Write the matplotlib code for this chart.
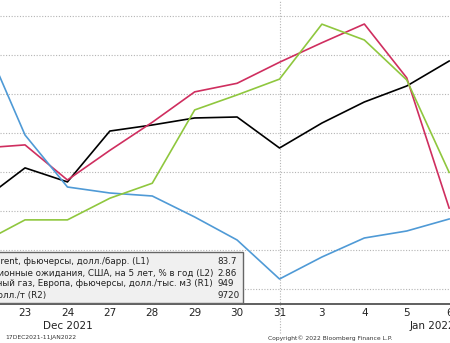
import matplotlib
matplotlib.use("Agg")
import matplotlib.pyplot as plt
from matplotlib.patches import Rectangle

# trading days shown (Dec 22 is just off the left edge)
day_labels = ["22", "23", "24", "27", "28", "29", "30", "31", "3", "4", "5", "6"]

# values, each series in its own units
brent = [74.56, 76.21, 75.49, 78.10, 78.41, 78.77, 78.82, 77.23, 78.51, 79.59, 80.41, 81.69]
breakeven = [2.761, 2.765, 2.720, 2.758, 2.794, 2.833, 2.844, 2.871, 2.896, 2.920, 2.851, 2.684]
gas = [1728, 1336, 1128, 1104, 1092, 1008, 916, 760, 848, 924, 952, 1000]
copper = [9498, 9525, 9525, 9551, 9569, 9657, 9675, 9694, 9760, 9741, 9693, 9582]

legend_names = [
    "Нефть Brent, фьючерсы, долл./барр. (L1)",
    "Инфляционные ожидания, США, на 5 лет, % в год (L2)",
    "Природный газ, Европа, фьючерсы, долл./тыс. м3 (R1)",
    "Медь, долл./т (R2)",
]
legend_last = ["83.7", "2.86", "949", "9720"]

W, H = 450, 343
fig = plt.figure(figsize=(W / 100, H / 100), dpi=100)
ax = fig.add_axes([0, 39 / H, 1, 304 / H])
x = list(range(len(day_labels)))

ax_l2 = ax.twinx()
ax_r1 = ax.twinx()
ax_r2 = ax.twinx()

ax_r1.plot(x, gas, color="#4f9ad6", lw=1.2)
ax_r2.plot(x, copper, color="#8fc73e", lw=1.2)
ax_l2.plot(x, breakeven, color="#cf2e5f", lw=1.2)
ax.plot(x, brent, color="#000000", lw=1.2, zorder=5)

ax.set_ylim(69.23, 84.82)
ax_l2.set_ylim(2.561, 2.9508)
ax_r1.set_ylim(660, 1876)
ax_r2.set_ylim(9424, 9789)

# light dotted grid from the L1 axis
ax.set_yticks([70, 72, 74, 76, 78, 80, 82, 84])
ax.yaxis.grid(True, ls=(0, (1, 1.5)), color="#b4b4b4", lw=0.8)
ax.set_axisbelow(True)

ax.set_xticks(x)
ax.set_xticklabels(day_labels, fontsize=7.5, color="#222222")
ax.tick_params(axis="x", length=0, pad=3)

for a in (ax, ax_l2, ax_r1, ax_r2):
    a.set_xlim(0.41, 11.02)
    for s in ("top", "left", "right", "bottom"):
        a.spines[s].set_visible(False)
    a.tick_params(left=False, right=False, labelleft=False, labelright=False)
for a in (ax_l2, ax_r1, ax_r2):
    a.tick_params(axis="x", bottom=False, labelbottom=False)

ax.spines["bottom"].set_visible(True)
ax.spines["bottom"].set_color("#444444")
ax.spines["bottom"].set_linewidth(1.2)

# year separator at Dec 31
ax.axvline(7, ymin=-0.095, ymax=1, clip_on=False, ls=(0, (1, 1.5)),
           color="#b4b4b4", lw=0.8)

xt = ax.get_xaxis_transform()
ax.text(2, -0.072, "Dec 2021", transform=xt, ha="center", va="center",
        fontsize=7.5, color="#222222")
ax.text(10.6, -0.072, "Jan 2022", transform=xt, ha="center", va="center",
        fontsize=7.5, color="#222222")

# legend panel (cut off on the left like the screenshot)
fig.patches.append(Rectangle((-5 / W, 40 / H), 248 / W, 51 / H,
                             transform=fig.transFigure, fc="#f0f0f0",
                             ec="#666666", lw=1.0))
for i, (name, last) in enumerate(zip(legend_names, legend_last)):
    yy = 1 - (262 + i * 11) / H
    fig.text(-38 / W, yy, name, ha="left", va="center", fontsize=6.3,
             color="#222222")
    fig.text(217 / W, yy, last, ha="left", va="center", fontsize=6.3,
             color="#222222")

fig.text(5 / W, 1 - 338 / H, "17DEC2021-11JAN2022", ha="left", va="center",
         fontsize=4.3, color="#333333")
fig.text(330 / W, 1 - 338 / H, "Copyright© 2022 Bloomberg Finance L.P.",
         ha="center", va="center", fontsize=4.3, color="#333333")

fig.savefig("out.png", dpi=100)
